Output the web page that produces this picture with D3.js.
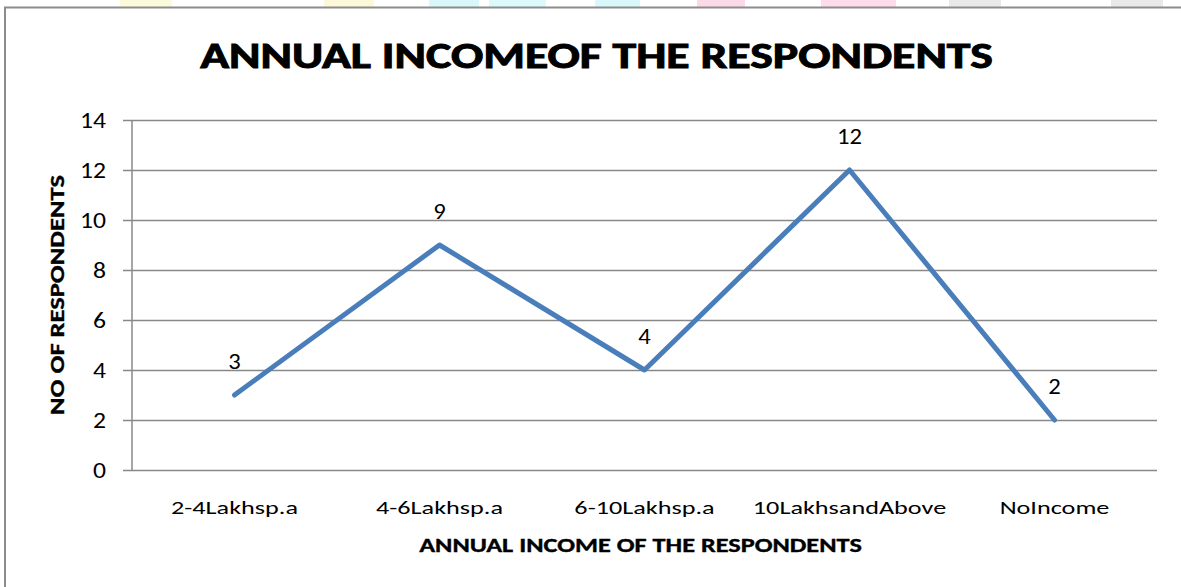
<!DOCTYPE html>
<html>
<head>
<meta charset="utf-8">
<script src="https://cdn.jsdelivr.net/npm/d3@7"></script>
<style>
  html, body { margin: 0; padding: 0; background: #ffffff; }
  svg { display: block; }
  text { font-family: Carlito, Calibri, Lato, "Open Sans", sans-serif; fill: #000; }
</style>
</head>
<body>
<svg id="chart" width="1181" height="587"></svg>
<script>
// Respondents by annual income bracket
const categories = ["2-4Lakhsp.a", "4-6Lakhsp.a", "6-10Lakhsp.a", "10LakhsandAbove", "NoIncome"];
const respondents = [3, 9, 4, 12, 2];
const yTicks = [0, 2, 4, 6, 8, 10, 12, 14];

const chartTitle = "ANNUAL INCOMEOF THE RESPONDENTS";
const xTitle = "ANNUAL INCOME OF THE RESPONDENTS";
const yTitle = "NO OF RESPONDENTS";

const FAMILY = 'Carlito, Calibri, Lato, "Open Sans", sans-serif';

const svg = d3.select("#chart");
const W = 1181, H = 587;

svg.append("rect").attr("width", W).attr("height", H).attr("fill", "#fff");

// faint page decoration strip above the chart frame
const strip = [
  [120, 172, "#fbfbdc"], [324, 374, "#fbf9d8"], [429, 479, "#d9f8fb"],
  [489, 546, "#dcf9fb"], [595, 640, "#d9f8fb"], [697, 745, "#fcd9e9"],
  [821, 896, "#fcdbea"], [949, 1001, "#e9e9e9"], [1111, 1163, "#e9e9e9"]
];
svg.selectAll("rect.strip").data(strip).join("rect")
  .attr("class", "strip")
  .attr("x", d => d[0]).attr("y", 0)
  .attr("width", d => d[1] - d[0]).attr("height", 7)
  .attr("fill", d => d[2]);

// chart frame
svg.append("rect")
  .attr("x", 5).attr("y", 7.5)
  .attr("width", 1250).attr("height", 650)
  .attr("fill", "#fff")
  .attr("stroke", "#8c8c8c").attr("stroke-width", 2);

const plot = { left: 132, right: 1157, top: 120, bottom: 470 };

const x = d3.scaleBand().domain(categories).range([plot.left, plot.right]);
const y = d3.scaleLinear().domain([0, 14]).range([plot.bottom, plot.top]);
const cx = d => x(d) + x.bandwidth() / 2;

// glyph metrics of the resolved font: height of a sample string and its width, per 1px of font size
const ctx = document.createElement("canvas").getContext("2d");
function metrics(sample, weight) {
  ctx.font = `${weight} 100px ${FAMILY}`;
  const m = ctx.measureText(sample);
  return { h: m.actualBoundingBoxAscent / 100, w: m.width / 100 };
}
// font size giving a wanted glyph height, and horizontal stretch giving a wanted length
function sizing(sample, weight, glyphH, length) {
  const m = metrics(sample, weight);
  const size = glyphH / m.h;
  return { size, k: length / (m.w * size) };
}

function placeText(t, tx, ty, rot, k) {
  const base = `translate(${tx},${ty})` + (rot ? ` rotate(${rot})` : "");
  return t.attr("x", 0).attr("y", 0).attr("transform", base + ` scale(${k},1)`);
}

// horizontal gridlines via the y axis
const yAxis = d3.axisLeft(y).tickValues(yTicks)
  .tickSize(-(plot.right - plot.left)).tickFormat("");
const gy = svg.append("g").attr("transform", `translate(${plot.left},0)`).call(yAxis);
gy.select(".domain").remove();
gy.selectAll(".tick line").attr("stroke", "#888").attr("stroke-width", 1.5)
  .attr("x1", -9);

// vertical axis line
svg.append("line")
  .attr("x1", plot.left).attr("x2", plot.left)
  .attr("y1", y(14)).attr("y2", y(0))
  .attr("stroke", "#888").attr("stroke-width", 1.5);

// y tick labels
const tk = sizing("14", 400, 15, 26);
svg.append("g").selectAll("text").data(yTicks).join("text")
  .attr("text-anchor", "end")
  .attr("font-size", tk.size)
  .text(d => d)
  .each(function (d) { placeText(d3.select(this), 106, y(d) + 7.5, 0, tk.k); });

// category labels
const ck = sizing(categories[0], 400, 13.5, 127);
svg.append("g").selectAll("text").data(categories).join("text")
  .attr("text-anchor", "middle")
  .attr("font-size", ck.size)
  .text(d => d)
  .each(function (d) { placeText(d3.select(this), cx(d), 514, 0, ck.k); });

// series line
const line = d3.line()
  .x((d, i) => cx(categories[i]))
  .y(d => y(d));
svg.append("path")
  .datum(respondents)
  .attr("d", line)
  .attr("fill", "none")
  .attr("stroke", "#4a7ebb")
  .attr("stroke-width", 5)
  .attr("stroke-linejoin", "round")
  .attr("stroke-linecap", "round");

// value labels above each point
const vk = sizing("12", 400, 15, 25);
svg.append("g").selectAll("text").data(respondents).join("text")
  .attr("text-anchor", "middle")
  .attr("font-size", vk.size)
  .text(d => d)
  .each(function (d, i) {
    placeText(d3.select(this), cx(categories[i]), y(d) - 26, 0, vk.k);
  });

// chart title
const ttk = sizing(chartTitle, 700, 23.5, 793);
placeText(svg.append("text")
  .attr("text-anchor", "middle").attr("font-size", ttk.size).attr("font-weight", 700)
  .attr("stroke", "#000").attr("stroke-width", 0.9)
  .text(chartTitle), 596.5, 67.5, 0, ttk.k);

// x axis title
const xk = sizing(xTitle, 700, 13.5, 443);
placeText(svg.append("text")
  .attr("text-anchor", "middle").attr("font-size", xk.size).attr("font-weight", 700)
  .attr("stroke", "#000").attr("stroke-width", 0.35)
  .text(xTitle), 640.5, 552, 0, xk.k);

// y axis title
const yk = sizing(yTitle, 700, 13.5, 240);
placeText(svg.append("text")
  .attr("text-anchor", "middle").attr("font-size", yk.size).attr("font-weight", 700)
  .attr("stroke", "#000").attr("stroke-width", 0.35)
  .text(yTitle), 63.5, 295, -90, yk.k);
</script>
</body>
</html>
